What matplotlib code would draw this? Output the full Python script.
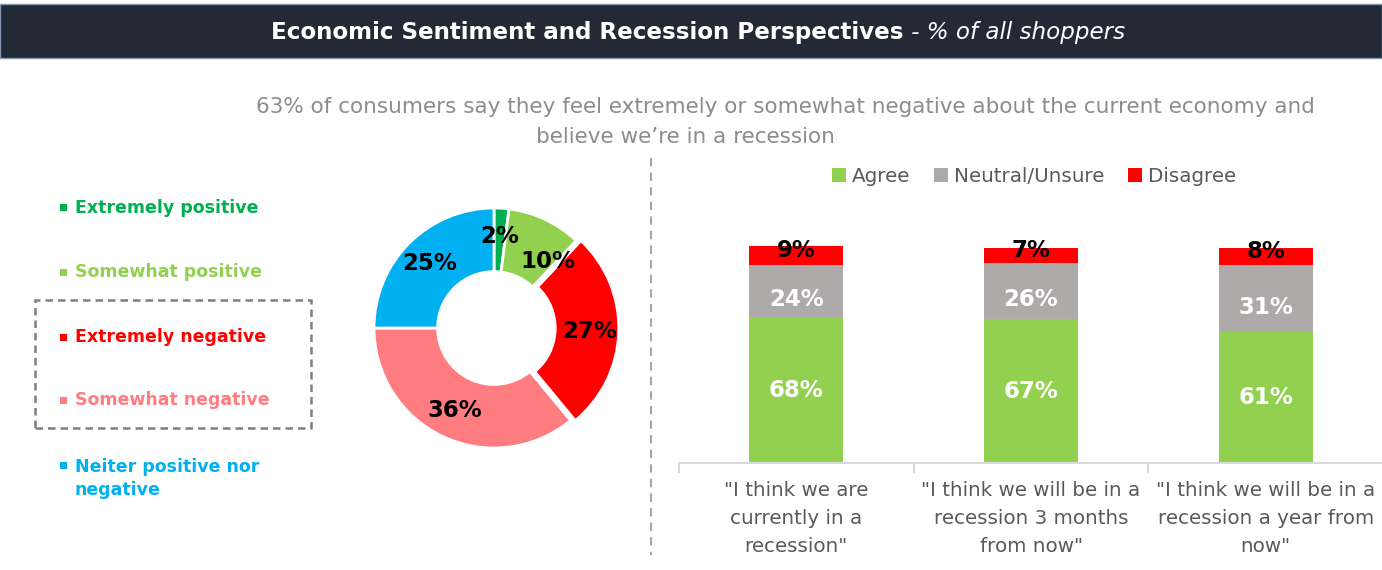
import numpy as np
import matplotlib
matplotlib.use("Agg")
import matplotlib.pyplot as plt
from matplotlib.patches import Rectangle
from matplotlib.lines import Line2D

# data
sentiment_labels = ["Extremely positive", "Somewhat positive", "Extremely negative",
                    "Somewhat negative", "Neiter positive nor\nnegative"]
sentiment_values = [2, 10, 27, 36, 25]
sentiment_colors = ["#00b050", "#92d050", "#ff0000", "#ff7c80", "#00b0f0"]

statements = ['"I think we are\ncurrently in a\nrecession"',
              '"I think we will be in a\nrecession 3 months\nfrom now"',
              '"I think we will be in a\nrecession a year from\nnow"']
agree = [68, 67, 61]
neutral = [24, 26, 31]
disagree = [9, 7, 8]
series_names = ["Agree", "Neutral/Unsure", "Disagree"]
series_colors = ["#92d050", "#aeaaaa", "#ff0000"]

W, H = 1382, 570
fig = plt.figure(figsize=(W / 100, H / 100), dpi=100)
plt.rcParams["font.family"] = ["DejaVu Sans"]


def fx(x):
    return x / W


def fy(y):
    return 1 - y / H


# header band
fig.add_artist(Rectangle((0, fy(58)), 1, 54 / H, transform=fig.transFigure,
                         facecolor="#232a36", edgecolor="#8496b0", lw=1))
r = fig.canvas.get_renderer()
t1 = fig.text(0, fy(32), "Economic Sentiment and Recession Perspectives", color="white",
              fontsize=16.6, fontweight="bold", va="center", ha="left")
t2 = fig.text(0, fy(32), " - % of all shoppers", color="white", fontsize=16.6,
              style="italic", va="center", ha="left")
w1 = t1.get_window_extent(r).width
w2 = t2.get_window_extent(r).width
x0 = 698 - (w1 + w2) / 2
t1.set_x(fx(x0))
t2.set_x(fx(x0 + w1))

# subtitle
fig.text(fx(785), fy(107), "63% of consumers say they feel extremely or somewhat negative "
         "about the current economy and", ha="center", va="center", fontsize=15.5, color="#8c8c8c")
fig.text(fx(685), fy(137), "believe we\u2019re in a recession", ha="center", va="center",
         fontsize=15.5, color="#8c8c8c")

# divider
fig.add_artist(Line2D([fx(651), fx(651)], [fy(158), fy(555)], transform=fig.transFigure,
                      color="#a6a6a6", ls=(0, (4, 3)), lw=1.5))

# left legend
rows = [208, 272, 337, 400, 465]
for lab, col, y in zip(sentiment_labels, sentiment_colors, rows):
    n = lab.count("\n")
    fig.add_artist(Rectangle((fx(60), fy(y + 3.5)), 7 / W, 7 / H, transform=fig.transFigure,
                             facecolor=col, edgecolor="none"))
    fig.text(fx(75), fy(y + n * 27 / 2), lab, color=col, fontsize=12.5, fontweight="bold",
             ha="left", va="center", linespacing=1.4)
fig.add_artist(Rectangle((fx(35), fy(428)), 276 / W, 128 / H, transform=fig.transFigure,
                         facecolor="none", edgecolor="#7f7f7f", ls=(0, (3, 2)), lw=1.8))

# donut
cx, cy = 494, 328
ax_p = fig.add_axes([fx(cx - 150), fy(cy + 150), 300 / W, 300 / H])
wedges, texts, autotexts = ax_p.pie(
    sentiment_values, colors=sentiment_colors, startangle=90, counterclock=False,
    explode=[0, 0, 0.04, 0, 0], radius=1,
    wedgeprops=dict(width=0.53, edgecolor="white", linewidth=2),
    autopct=lambda p: f"{p:.0f}%", pctdistance=0.76,
    textprops=dict(fontsize=16.5, fontweight="bold", color="black"))
autotexts[1].set_position((0.45, 0.55))
ax_p.set_xlim(-1.25, 1.25)
ax_p.set_ylim(-1.25, 1.25)

# stacked bars
ax = fig.add_axes([fx(679), fy(463), 704 / W, 110 * 2.147 / H])
x = np.arange(len(statements))
bw = 0.4
bottom = np.zeros(len(x))
handles = []
for vals, name, col in zip([agree, neutral, disagree], series_names, series_colors):
    b = ax.bar(x, vals, bw, bottom=bottom, color=col, label=name)
    handles.append(b)
    bottom = bottom + np.array(vals)

for i in x:
    a, n, d = agree[i], neutral[i], disagree[i]
    ax.text(i, a / 2, f"{a}%", ha="center", va="center", color="white",
            fontsize=16.5, fontweight="bold")
    ax.text(i, a + n / 2 - 4, f"{n}%", ha="center", va="center", color="white",
            fontsize=16.5, fontweight="bold")
    ax.text(i, a + n + d / 2 + 2.5, f"{d}%", ha="center", va="center", color="black",
            fontsize=16.5, fontweight="bold")

ax.set_xlim(-0.5, 2.5)
ax.set_ylim(0, 110)
for s in ["top", "left", "right"]:
    ax.spines[s].set_visible(False)
ax.spines["bottom"].set_color("#d9d9d9")
ax.spines["bottom"].set_linewidth(1.5)
ax.set_yticks([])
ax.set_xticks(x)
ax.set_xticklabels(statements, fontsize=14.3, color="#595959", linespacing=1.6)
ax.set_xticks([-0.5, 0.5, 1.5, 2.5], minor=True)
ax.tick_params(axis="x", which="major", length=0, pad=13)
ax.tick_params(axis="x", which="minor", length=7, width=1.5, color="#d9d9d9")

ax.legend(handles=handles, loc="center", bbox_to_anchor=(fx(1034), fy(176)),
          bbox_transform=fig.transFigure, ncol=3, frameon=False, fontsize=14.3,
          handlelength=0.7, handleheight=0.7, handletextpad=0.3, columnspacing=1.2,
          labelcolor="#595959")

fig.savefig("out.png", dpi=100)
